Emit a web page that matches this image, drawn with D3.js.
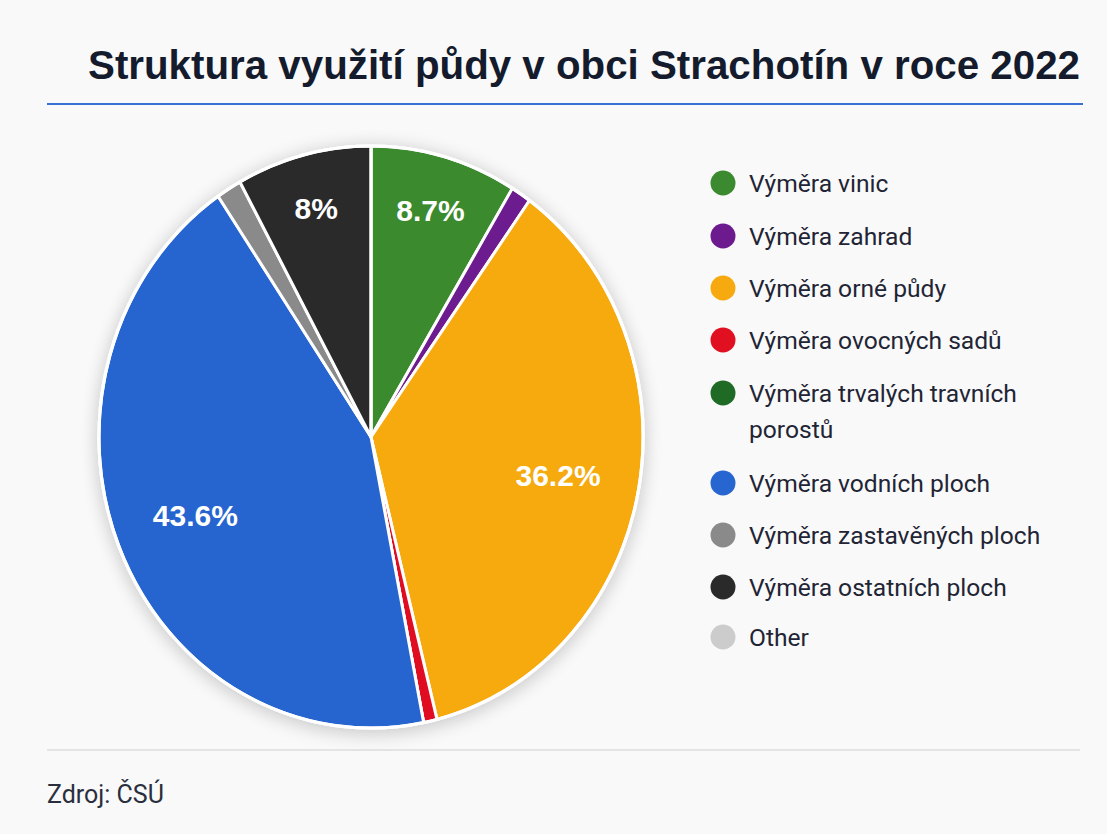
<!DOCTYPE html>
<html>
<head>
<meta charset="utf-8">
<script src="https://cdn.jsdelivr.net/npm/d3@7"></script>
<style>
  html, body { margin: 0; padding: 0; background: #f9f9f9; }
  svg { display: block; }
</style>
</head>
<body>
<svg id="chart" width="1107" height="834"></svg>
<script>
const titleText = "Struktura využití půdy v obci Strachotín v roce 2022";
const sourceText = "Zdroj: ČSÚ";
const categories = [
  "Výměra vinic",
  "Výměra zahrad",
  "Výměra orné půdy",
  "Výměra ovocných sadů",
  "Výměra trvalých travních porostů",
  "Výměra vodních ploch",
  "Výměra zastavěných ploch",
  "Výměra ostatních ploch",
  "Other"
];
const legendLines = [
  ["Výměra vinic"],
  ["Výměra zahrad"],
  ["Výměra orné půdy"],
  ["Výměra ovocných sadů"],
  ["Výměra trvalých travních", "porostů"],
  ["Výměra vodních ploch"],
  ["Výměra zastavěných ploch"],
  ["Výměra ostatních ploch"],
  ["Other"]
];
const values = [8.7, 1.2, 36.2, 0.8, 0, 43.6, 1.5, 8.0, 0];
const colors = ["#3b8a2f", "#6c1a8e", "#f6aa10", "#e01020", "#1f6b26", "#2765d0", "#8a8a8a", "#2a2a2a", "#cccccc"];

const svg = d3.select("#chart");
const W = 1107, H = 834;

svg.append("rect").attr("width", W).attr("height", H).attr("fill", "#f9f9f9");

// defs: shadow
const defs = svg.append("defs");
const f = defs.append("filter").attr("id", "shadow").attr("x", "-20%").attr("y", "-20%").attr("width", "140%").attr("height", "140%");
f.append("feGaussianBlur").attr("in", "SourceAlpha").attr("stdDeviation", 9);
f.append("feOffset").attr("dx", 0).attr("dy", 3).attr("result", "b");
f.append("feComponentTransfer").append("feFuncA").attr("type", "linear").attr("slope", 0.22);
const fm = f.append("feMerge");
fm.append("feMergeNode");
fm.append("feMergeNode").attr("in", "SourceGraphic");

// Title
svg.append("text")
  .attr("x", 88).attr("y", 79)
  .attr("font-family", "Liberation Sans, Arial, sans-serif")
  .attr("font-weight", "bold")
  .attr("font-size", 41)
  .attr("fill", "#141b2d")
  .attr("textLength", 992)
  .attr("lengthAdjust", "spacingAndGlyphs")
  .text(titleText);

svg.append("line")
  .attr("x1", 47).attr("x2", 1083).attr("y1", 104).attr("y2", 104)
  .attr("stroke", "#3a6fd6").attr("stroke-width", 2);

// Pie
const cx = 371, cy = 437, R = 272, sy = 1.07;
const pie = d3.pie().sort(null).value(d => d.v);
const data = categories.map((c, i) => ({ name: c, v: values[i], color: colors[i] }));
const arcs = pie(data);
const arc = d3.arc().innerRadius(0).outerRadius(R);

const g = svg.append("g")
  .attr("transform", `translate(${cx},${cy}) scale(1,${sy})`)
  .attr("filter", "url(#shadow)");

g.selectAll("path.slice")
  .data(arcs)
  .enter().append("path")
  .attr("class", "slice")
  .attr("d", arc)
  .attr("fill", d => d.data.color)
  .attr("stroke", "#ffffff")
  .attr("stroke-width", 3)
  .attr("stroke-linejoin", "round")
  .attr("vector-effect", "non-scaling-stroke");

// outer white rim
g.append("circle").attr("r", R).attr("fill", "none")
  .attr("stroke", "#ffffff").attr("stroke-width", 3)
  .attr("vector-effect", "non-scaling-stroke");

// labels
const fmt = v => (Math.round(v * 10) / 10).toString() + "%";
svg.append("g").selectAll("text")
  .data(arcs.filter(d => d.data.v >= 5))
  .enter().append("text")
  .attr("transform", d => {
    const lr = d.data.v < 10 ? 0.81 * R : 0.7 * R;
    const a = (d.startAngle + d.endAngle) / 2;
    const x = cx + Math.sin(a) * lr;
    const y = cy - Math.cos(a) * lr * sy;
    return `translate(${x},${y})`;
  })
  .attr("text-anchor", "middle")
  .attr("dy", "0.36em")
  .attr("font-family", "Liberation Sans, Arial, sans-serif")
  .attr("font-weight", "bold")
  .attr("font-size", 30)
  .attr("fill", "#ffffff")
  .text(d => fmt(d.data.v));

// Legend
const legendYs = [183, 236, 288, 340, 393, 483, 535, 587, 637];
const lg = svg.append("g");
categories.forEach((c, i) => {
  const row = lg.append("g").attr("transform", `translate(0,${legendYs[i]})`);
  row.append("circle").attr("cx", 723).attr("cy", 0).attr("r", 12.5).attr("fill", colors[i]);
  const t = row.append("text")
    .attr("x", 749).attr("y", 0)
    .attr("font-family", "Roboto, Inter, sans-serif")
    .attr("font-size", 24.6)
    .attr("fill", "#1f2535");
  legendLines[i].forEach((ln, j) => {
    t.append("tspan").attr("x", 749).attr("dy", j === 0 ? "0.35em" : 36).text(ln);
  });
});

// Footer
svg.append("line")
  .attr("x1", 47).attr("x2", 1080).attr("y1", 750).attr("y2", 750)
  .attr("stroke", "#dddddd").attr("stroke-width", 1.5);

svg.append("text")
  .attr("x", 47).attr("y", 803)
  .attr("font-family", "Roboto, Inter, sans-serif")
  .attr("font-size", 25)
  .attr("fill", "#2a2f3d")
  .text(sourceText);
</script>
</body>
</html>
